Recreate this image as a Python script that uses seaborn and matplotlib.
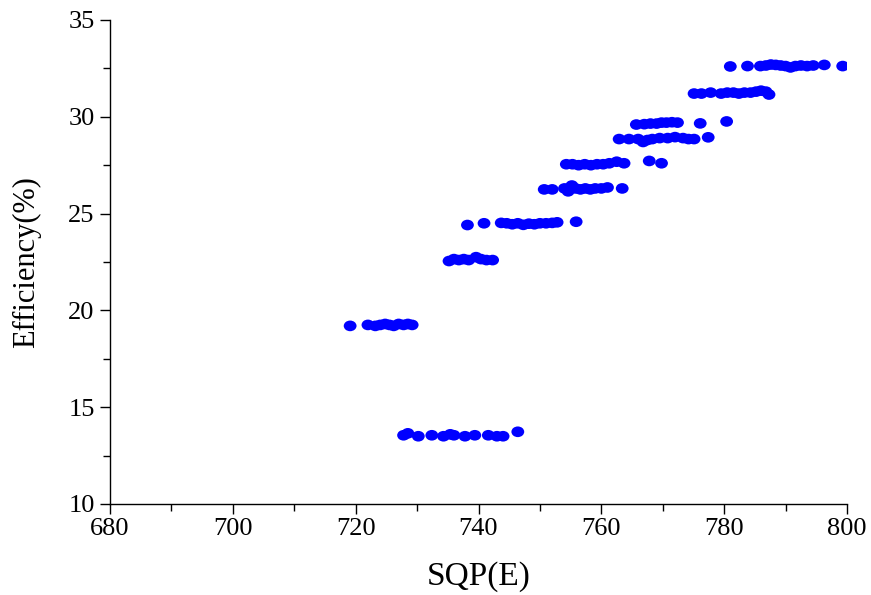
import numpy as np
import pandas as pd
import seaborn as sns
import matplotlib
matplotlib.use("Agg")
import matplotlib.pyplot as plt
from matplotlib.path import Path
from matplotlib.ticker import MultipleLocator

# ---- data (SQP(E), Efficiency %) ----
row_a_x = [719.1, 722.0, 723.2, 724.0, 724.8, 725.5, 726.2, 727.0, 727.8, 728.5, 729.2]
row_a_y = [19.2, 19.25, 19.2, 19.25, 19.3, 19.25, 19.2, 19.3, 19.25, 19.3, 19.25]

row_b_x = [727.8, 728.5, 730.2, 732.4, 734.3, 735.4, 736.0, 737.8, 739.4, 741.6, 743.0, 744.0, 746.4]
row_b_y = [13.55, 13.65, 13.5, 13.55, 13.5, 13.6, 13.55, 13.5, 13.55, 13.55, 13.5, 13.5, 13.73]

row_c_x = [735.2, 736.0, 736.8, 737.6, 738.4, 739.6, 740.4, 741.3, 742.3]
row_c_y = [22.55, 22.65, 22.6, 22.65, 22.6, 22.75, 22.65, 22.6, 22.6]

row_d_x = [738.2, 740.9, 743.7, 744.6, 745.5, 746.4, 747.3, 748.2, 749.1, 750.0, 751.0, 752.0, 752.8, 755.9]
row_d_y = [24.41, 24.5, 24.52, 24.5, 24.45, 24.5, 24.42, 24.48, 24.45, 24.5, 24.5, 24.52, 24.55, 24.58]

row_e_x = [750.7, 752.0, 754.0, 754.6, 755.2, 755.8, 756.6, 757.4, 758.2, 759.0, 760.0, 761.0, 763.4]
row_e_y = [26.25, 26.25, 26.3, 26.15, 26.45, 26.3, 26.25, 26.3, 26.25, 26.3, 26.3, 26.35, 26.3]

row_f_x = [754.3, 755.3, 756.3, 757.3, 758.3, 759.3, 760.3, 761.3, 762.5, 763.7]
row_f_y = [27.55, 27.55, 27.5, 27.55, 27.5, 27.55, 27.55, 27.6, 27.68, 27.6]

row_g_x = [762.9, 764.5, 766.0, 766.8, 767.5, 768.3, 769.5, 770.8, 772.0, 773.3, 774.2, 775.1, 777.4]
row_g_y = [28.85, 28.85, 28.85, 28.7, 28.8, 28.85, 28.9, 28.9, 28.95, 28.9, 28.85, 28.85, 28.94]

row_h_x = [765.7, 767.0, 768.0, 769.0, 769.8, 770.6, 771.5, 772.4, 776.1, 780.4]
row_h_y = [29.6, 29.62, 29.65, 29.65, 29.7, 29.7, 29.72, 29.7, 29.66, 29.76]

row_k_x = [767.8, 769.8]
row_k_y = [27.72, 27.6]

row_i_x = [775.1, 776.3, 777.8, 779.5, 780.5, 781.5, 782.4, 783.3, 784.3, 785.2, 786.0, 786.8, 787.3]
row_i_y = [31.2, 31.2, 31.25, 31.2, 31.25, 31.25, 31.2, 31.25, 31.25, 31.3, 31.35, 31.3, 31.15]

row_j_x = [781.0, 783.8, 785.9, 786.8, 787.6, 788.4, 789.2, 790.0, 790.8, 791.6, 792.5, 793.5, 794.5, 796.3, 799.3]
row_j_y = [32.6, 32.62, 32.62, 32.65, 32.7, 32.68, 32.65, 32.62, 32.55, 32.62, 32.65, 32.62, 32.65, 32.68, 32.62]

x_ticks = [680, 700, 720, 740, 760, 780, 800]
y_ticks = [10, 15, 20, 25, 30, 35]

xs = (row_a_x + row_b_x + row_c_x + row_d_x + row_e_x + row_f_x + row_g_x
      + row_h_x + row_k_x + row_i_x + row_j_x)
ys = (row_a_y + row_b_y + row_c_y + row_d_y + row_e_y + row_f_y + row_g_y
      + row_h_y + row_k_y + row_i_y + row_j_y)
df = pd.DataFrame({"SQP(E)": xs, "Efficiency": ys})

sns.set_style("ticks")
plt.rcParams["font.family"] = ["Liberation Serif", "DejaVu Serif"]
plt.rcParams["text.color"] = "black"
plt.rcParams["axes.labelcolor"] = "black"

fig = plt.figure(figsize=(8.71, 5.95), dpi=100)
ax = fig.add_axes([110 / 871, 1 - 504 / 595, (847 - 110) / 871, (504 - 20) / 595])

circ = Path.unit_circle()
ellipse = Path(circ.vertices * np.array([1.2, 1.0]), circ.codes)

sns.scatterplot(data=df, x="SQP(E)", y="Efficiency", ax=ax, marker=ellipse,
                s=85, color="#0000ff", edgecolor="none", linewidth=0, legend=False)

ax.set_xlim(680, 800)
ax.set_ylim(10, 35)
ax.set_xticks(x_ticks)
ax.set_yticks(y_ticks)
ax.set_xticklabels([str(t) for t in x_ticks])
ax.set_yticklabels([str(t) for t in y_ticks])
ax.xaxis.set_minor_locator(MultipleLocator(10))
ax.yaxis.set_minor_locator(MultipleLocator(2.5))
ax.tick_params(which="major", direction="out", length=7, width=1.0, labelsize=19,
               color="black", labelcolor="black")
ax.tick_params(which="minor", direction="out", length=5, width=1.0, color="black")
ax.tick_params(axis="x", pad=3)
ax.tick_params(axis="y", pad=4)

for side in ["top", "right"]:
    ax.spines[side].set_visible(False)
for side in ["left", "bottom"]:
    ax.spines[side].set_linewidth(1.0)
    ax.spines[side].set_color("black")

ax.set_xlabel("SQP(E)", fontsize=24, labelpad=15, color="black")
ax.set_ylabel("Efficiency(%)", fontsize=22, labelpad=20, color="black")

fig.savefig("out.png", dpi=100, facecolor="white")
